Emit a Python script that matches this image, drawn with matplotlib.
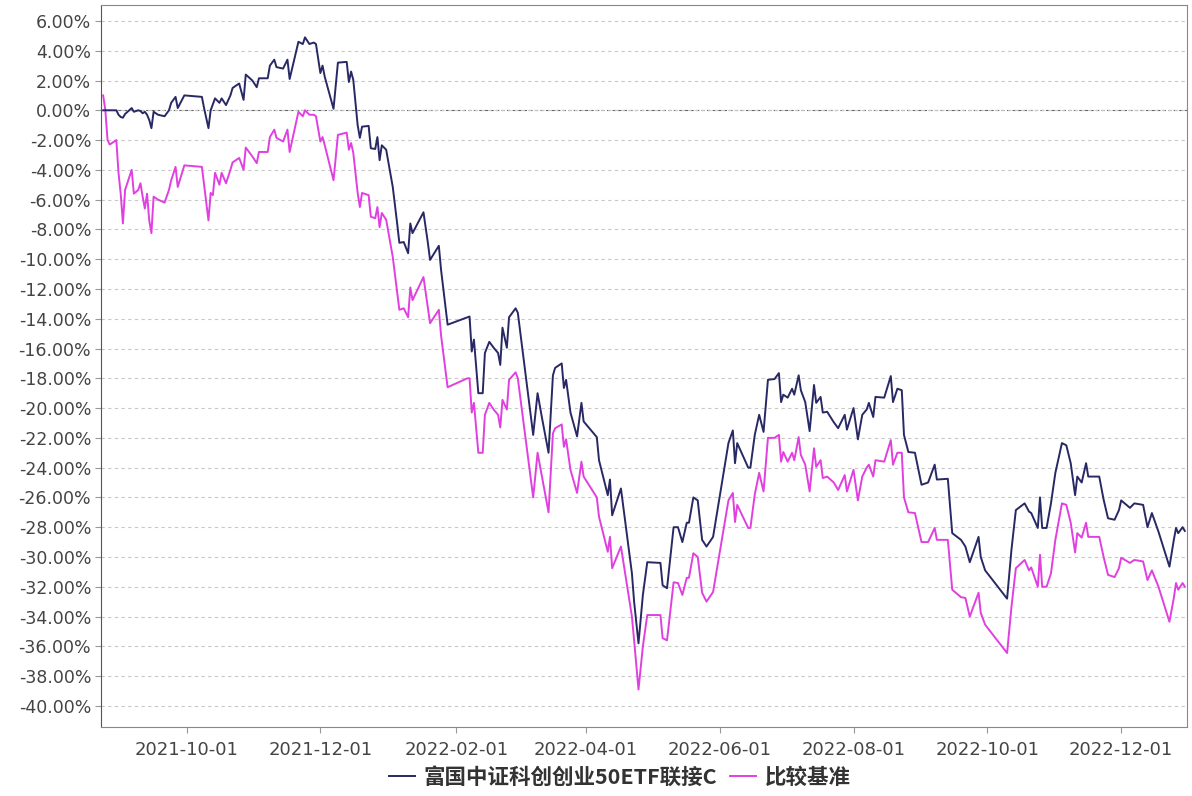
import pandas as pd
import matplotlib
matplotlib.use('Agg')
import matplotlib.pyplot as plt
import matplotlib.dates as mdates
from matplotlib.ticker import MultipleLocator, FuncFormatter

# Cumulative return (%) of the fund vs. its benchmark
dates = [
    '2021-08-24', '2021-08-25', '2021-08-26', '2021-08-27', '2021-08-30', '2021-08-31',
    '2021-09-01', '2021-09-02', '2021-09-03', '2021-09-06', '2021-09-07', '2021-09-09',
    '2021-09-10', '2021-09-11', '2021-09-12', '2021-09-13', '2021-09-14', '2021-09-15',
    '2021-09-16', '2021-09-18', '2021-09-21', '2021-09-23', '2021-09-24', '2021-09-26',
    '2021-09-27', '2021-09-30', '2021-10-08', '2021-10-09', '2021-10-11', '2021-10-12',
    '2021-10-13', '2021-10-14', '2021-10-16', '2021-10-17', '2021-10-19', '2021-10-21',
    '2021-10-22', '2021-10-25', '2021-10-27', '2021-10-28', '2021-10-31', '2021-11-02',
    '2021-11-03', '2021-11-07', '2021-11-08', '2021-11-10', '2021-11-11', '2021-11-14',
    '2021-11-16', '2021-11-17', '2021-11-21', '2021-11-23', '2021-11-24', '2021-11-26',
    '2021-11-28', '2021-11-29', '2021-12-01', '2021-12-02', '2021-12-03', '2021-12-07',
    '2021-12-09', '2021-12-13', '2021-12-14', '2021-12-15', '2021-12-16', '2021-12-18',
    '2021-12-19', '2021-12-20', '2021-12-23', '2021-12-24', '2021-12-26', '2021-12-27',
    '2021-12-28', '2021-12-29', '2021-12-31', '2022-01-03', '2022-01-05', '2022-01-06',
    '2022-01-08', '2022-01-10', '2022-01-11', '2022-01-12', '2022-01-17', '2022-01-19',
    '2022-01-20', '2022-01-24', '2022-01-25', '2022-01-28', '2022-02-06', '2022-02-07',
    '2022-02-08', '2022-02-09', '2022-02-11', '2022-02-13', '2022-02-14', '2022-02-16',
    '2022-02-18', '2022-02-20', '2022-02-21', '2022-02-22', '2022-02-24', '2022-02-25',
    '2022-02-28', '2022-03-01', '2022-03-08', '2022-03-10', '2022-03-12', '2022-03-15',
    '2022-03-17', '2022-03-18', '2022-03-21', '2022-03-22', '2022-03-23', '2022-03-25',
    '2022-03-28', '2022-03-30', '2022-03-31', '2022-04-06', '2022-04-07', '2022-04-11',
    '2022-04-12', '2022-04-13', '2022-04-17', '2022-04-22', '2022-04-23', '2022-04-25',
    '2022-04-27', '2022-04-29', '2022-05-05', '2022-05-06', '2022-05-08', '2022-05-11',
    '2022-05-13', '2022-05-15', '2022-05-17', '2022-05-18', '2022-05-20', '2022-05-22',
    '2022-05-24', '2022-05-26', '2022-05-29', '2022-06-05', '2022-06-07', '2022-06-08',
    '2022-06-09', '2022-06-14', '2022-06-15', '2022-06-17', '2022-06-19', '2022-06-21',
    '2022-06-23', '2022-06-26', '2022-06-28', '2022-06-29', '2022-06-30', '2022-07-02',
    '2022-07-04', '2022-07-05', '2022-07-07', '2022-07-08', '2022-07-10', '2022-07-12',
    '2022-07-14', '2022-07-15', '2022-07-17', '2022-07-18', '2022-07-20', '2022-07-23',
    '2022-07-25', '2022-07-28', '2022-07-29', '2022-08-01', '2022-08-03', '2022-08-05',
    '2022-08-07', '2022-08-08', '2022-08-10', '2022-08-11', '2022-08-15', '2022-08-18',
    '2022-08-19', '2022-08-21', '2022-08-23', '2022-08-24', '2022-08-26', '2022-08-29',
    '2022-09-01', '2022-09-04', '2022-09-07', '2022-09-08', '2022-09-13', '2022-09-15',
    '2022-09-19', '2022-09-21', '2022-09-23', '2022-09-27', '2022-09-28', '2022-09-30',
    '2022-10-10', '2022-10-12', '2022-10-14', '2022-10-18', '2022-10-20', '2022-10-21',
    '2022-10-24', '2022-10-25', '2022-10-26', '2022-10-28', '2022-10-30', '2022-11-01',
    '2022-11-04', '2022-11-06', '2022-11-08', '2022-11-10', '2022-11-11', '2022-11-13',
    '2022-11-15', '2022-11-16', '2022-11-19', '2022-11-21', '2022-11-23', '2022-11-25',
    '2022-11-28', '2022-11-30', '2022-12-01', '2022-12-05', '2022-12-07', '2022-12-11',
    '2022-12-13', '2022-12-15', '2022-12-18', '2022-12-23', '2022-12-25', '2022-12-26',
    '2022-12-27', '2022-12-29', '2022-12-30',
]

fund = [
    0.0, 0.0, 0.0, 0.0, 0.0, -0.3,
    -0.45, -0.5, -0.25, 0.15, -0.1, 0.0,
    -0.05, -0.2, -0.1, -0.3, -0.65, -1.2,
    -0.1, -0.3, -0.4, 0.0, 0.5, 0.9,
    0.15, 1.0, 0.9, 0.15, -1.2, 0.0,
    0.4, 0.8, 0.5, 0.8, 0.35, 1.0,
    1.5, 1.8, 0.7, 2.4, 2.0, 1.55,
    2.15, 2.15, 3.0, 3.4, 2.9, 2.8,
    3.4, 2.1, 4.6, 4.45, 4.9, 4.45,
    4.55, 4.45, 2.5, 3.0, 2.25, 0.1,
    3.2, 3.25, 1.9, 2.6, 2.05, -1.0,
    -1.85, -1.1, -1.05, -2.55, -2.6, -1.8,
    -3.35, -2.35, -2.65, -5.15, -7.6, -8.9,
    -8.85, -9.6, -7.6, -8.25, -6.85, -8.9,
    -10.05, -9.1, -10.7, -14.4, -13.9, -13.85,
    -16.2, -15.4, -19.0, -19.0, -16.3, -15.55,
    -15.95, -16.3, -17.1, -14.6, -15.95, -13.9,
    -13.3, -13.6, -21.8, -19.0, -20.65, -23.0,
    -17.8, -17.3, -17.0, -18.65, -18.1, -20.3,
    -21.9, -19.65, -20.9, -21.95, -23.5, -25.85,
    -24.8, -27.2, -25.4, -31.1, -33.0, -35.8,
    -32.55, -30.35, -30.4, -31.9, -32.1, -28.0,
    -28.0, -29.0, -27.7, -27.7, -26.0, -26.2,
    -28.85, -29.3, -28.65, -22.35, -21.5, -23.7,
    -22.35, -24.0, -24.0, -21.8, -20.45, -21.6,
    -18.1, -18.05, -17.65, -19.6, -19.1, -19.3,
    -18.7, -19.1, -17.8, -18.8, -19.6, -21.55,
    -18.45, -19.65, -19.25, -20.3, -20.25, -20.95,
    -21.35, -20.45, -21.45, -20.0, -22.1, -20.45,
    -20.1, -19.65, -20.6, -19.25, -19.3, -17.85,
    -19.6, -18.7, -18.8, -21.8, -22.95, -23.0,
    -25.15, -25.0, -23.8, -24.8, -24.75, -28.4,
    -28.85, -29.3, -30.35, -28.65, -30.0, -30.9,
    -32.8, -29.5, -26.85, -26.4, -26.95, -27.05,
    -28.05, -26.0, -28.05, -28.05, -26.4, -24.35,
    -22.35, -22.5, -23.7, -25.85, -24.6, -25.0,
    -23.7, -24.6, -24.6, -24.6, -26.15, -27.4,
    -27.5, -26.85, -26.2, -26.7, -26.4, -26.5,
    -28.0, -27.05, -28.3, -30.65, -28.85, -28.05,
    -28.4, -28.0, -28.25,
]

benchmark = [
    1.0, 0.0, -2.0, -2.3, -2.0, -4.2,
    -5.6, -7.6, -5.35, -4.0, -5.6, -5.35,
    -4.9, -5.8, -6.6, -5.6, -7.4, -8.25,
    -5.8, -6.0, -6.2, -5.35, -4.7, -3.8,
    -5.15, -3.7, -3.8, -5.0, -7.4, -5.55,
    -5.7, -4.2, -5.0, -4.2, -4.9, -4.0,
    -3.5, -3.2, -4.0, -2.5, -3.1, -3.55,
    -2.8, -2.8, -1.8, -1.3, -1.85, -2.1,
    -1.3, -2.8, -0.1, -0.4, 0.0, -0.3,
    -0.3, -0.4, -2.1, -1.8, -2.35, -4.7,
    -1.65, -1.5, -2.65, -2.2, -2.85, -5.55,
    -6.5, -5.55, -5.7, -7.15, -7.25, -6.5,
    -7.85, -6.9, -7.35, -9.85, -12.25, -13.4,
    -13.3, -13.9, -11.9, -12.75, -11.2, -13.3,
    -14.3, -13.4, -15.1, -18.6, -18.0, -18.0,
    -20.3, -19.65, -23.0, -23.0, -20.45, -19.65,
    -20.1, -20.45, -21.3, -19.45, -20.1, -18.1,
    -17.6, -18.0, -26.0, -23.0, -24.6, -27.0,
    -21.7, -21.35, -21.1, -22.6, -22.1, -24.15,
    -25.7, -23.6, -24.6, -26.0, -27.3, -29.65,
    -28.65, -30.75, -29.3, -34.0, -35.6, -38.9,
    -36.0, -33.9, -33.9, -35.45, -35.6, -31.7,
    -31.75, -32.55, -31.4, -31.4, -29.75, -30.0,
    -32.4, -33.0, -32.35, -26.2, -25.7, -27.65,
    -26.5, -28.05, -28.05, -25.8, -24.35, -25.6,
    -22.0, -22.0, -21.8, -23.6, -22.95, -23.6,
    -23.0, -23.5, -21.95, -23.15, -23.8, -25.6,
    -22.7, -23.95, -23.5, -24.7, -24.6, -25.0,
    -25.5, -24.5, -25.6, -24.15, -26.2, -24.6,
    -24.0, -23.8, -24.6, -23.5, -23.6, -22.15,
    -23.8, -23.0, -23.0, -26.0, -27.0, -27.05,
    -29.0, -29.0, -28.05, -28.85, -28.85, -32.2,
    -32.7, -32.75, -34.0, -32.4, -33.75, -34.55,
    -36.45, -33.35, -30.75, -30.2, -30.9, -30.7,
    -32.0, -29.85, -32.0, -32.0, -31.1, -28.85,
    -26.4, -26.5, -27.7, -29.7, -28.4, -28.7,
    -27.7, -28.65, -28.65, -28.65, -30.0, -31.2,
    -31.35, -30.75, -30.05, -30.4, -30.2, -30.3,
    -31.55, -30.9, -32.0, -34.35, -32.75, -31.75,
    -32.2, -31.75, -32.0,
]

tick_dates = ['2021-10-01', '2021-12-01', '2022-02-01', '2022-04-01',
              '2022-06-01', '2022-08-01', '2022-10-01', '2022-12-01']

fund_name = '富国中证科创创业50ETF联接C'
bench_name = '比较基准'


def main():
    x = pd.to_datetime(dates)

    fig = plt.figure(figsize=(11.92, 7.96), dpi=100)
    ax = fig.add_axes([0.0847, 0.0861, 0.9111, 0.9076])

    # horizontal dashed grid, zero line a bit darker
    ax.yaxis.set_major_locator(MultipleLocator(2))
    ax.grid(axis='y', color='#c8c8c8', linestyle=(0, (3, 3)), linewidth=0.8)
    ax.axhline(0, color='#666666', linestyle=(0, (3, 2)), linewidth=0.8, zorder=1)

    ax.plot(x, fund, color='#282864', linewidth=1.4, label=fund_name, zorder=3)
    ax.plot(x, benchmark, color='#e040e0', linewidth=1.4, label=bench_name, zorder=2)

    ax.set_ylim(-41.45, 7.07)
    ax.set_xlim(pd.Timestamp('2021-08-23'), pd.Timestamp('2022-12-31'))

    ax.set_xticks(pd.to_datetime(tick_dates))
    ax.xaxis.set_major_formatter(mdates.DateFormatter('%Y-%m-%d'))
    ax.yaxis.set_major_formatter(FuncFormatter(lambda v, p: '%.2f%%' % v))

    ax.tick_params(axis='x', labelsize=13, color='#999999', length=4, pad=6, labelcolor='#444444')
    ax.tick_params(axis='y', labelsize=12.5, color='#999999', length=4, pad=3, labelcolor='#444444')

    for side in ['top', 'right', 'bottom']:
        ax.spines[side].set_color('#888888')
    ax.spines['left'].set_color('#555555')

    fig.legend(loc='center', bbox_to_anchor=(620 / 1192, 1 - 777 / 796), ncol=2,
               frameon=False, handlelength=1.2, handletextpad=0.4, columnspacing=0.6,
               prop={'family': ['Noto Sans CJK SC', 'DejaVu Sans'], 'size': 15.5, 'weight': 'bold'},
               labelcolor='#333333')

    fig.savefig('out.png', dpi=100)


if __name__ == '__main__':
    main()
